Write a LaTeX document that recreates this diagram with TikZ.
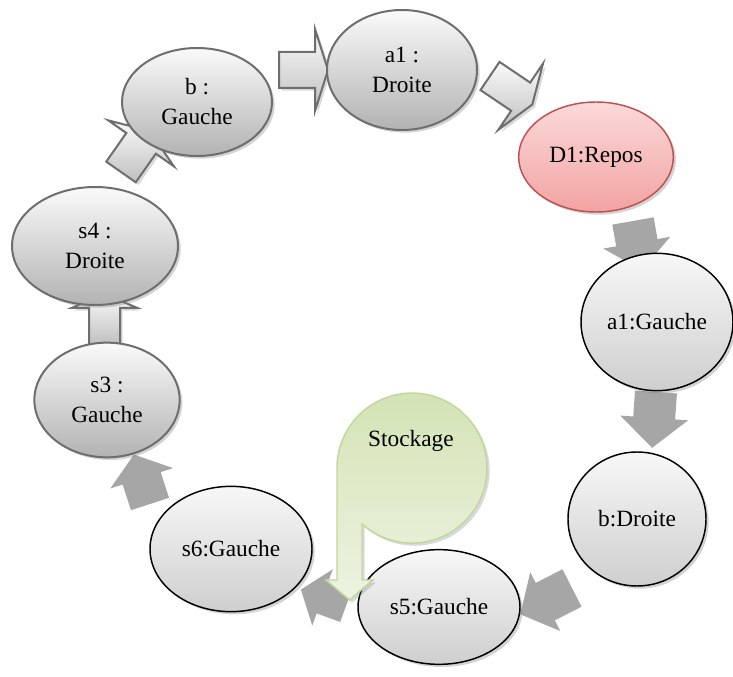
\documentclass[tikz,border=0pt]{standalone}
\usepackage{fontspec}
\setmainfont{Liberation Serif}
\usetikzlibrary{shapes.geometric,shadows}

\definecolor{rim}{HTML}{6E6E6E}
\definecolor{darkarr}{HTML}{A6A6A6}
\definecolor{redrim}{HTML}{C0504D}
\definecolor{pinktop}{HTML}{FBD9D9}
\definecolor{pinkbot}{HTML}{F2A3A3}
\definecolor{greenrim}{HTML}{C3D69B}
\definecolor{greentop}{HTML}{D3E3B4}
\definecolor{greenbot}{HTML}{EDF3E1}

\tikzset{
  pics/bigarrow/.style n args={5}{code={
    \path[#1] (0,-#3) -- ({#2-#5},-#3) -- ({#2-#5},-#4) -- (#2,0)
      -- ({#2-#5},#4) -- ({#2-#5},#3) -- (0,#3) -- cycle;
  }}
}

\begin{document}
\begin{tikzpicture}[x=0.75pt, y=-0.75pt,
    font=\rmfamily\fontsize{17.5}{22.5}\selectfont,
    state/.style={ellipse, inner sep=0pt, align=center,
      drop shadow={opacity=0.35, shadow xshift=2pt, shadow yshift=-2pt}},
    greystate/.style={state, draw=rim, line width=1.5pt, top color=gray!4, bottom color=gray!60},
    blackstate/.style={state, draw=black, line width=1.1pt, top color=gray!6, bottom color=gray!38},
    redstate/.style={state, draw=redrim, line width=1.1pt, top color=pinktop, bottom color=pinkbot},
    lightarr/.style={draw=rim, line width=1.5pt, top color=gray!4, bottom color=gray!50,
      drop shadow={opacity=0.3, shadow xshift=2pt, shadow yshift=-2pt}},
    darkarr/.style={fill=darkarr},
    stockshape/.style={draw=greenrim, line width=1.1pt, top color=greentop, bottom color=greenbot,
      drop shadow={opacity=0.3, shadow xshift=2pt, shadow yshift=-2pt}}]
  \useasboundingbox (0,0) rectangle (733,677);

  % arrows first, the states cover their ends
  \pic[rotate=0]    at (279,70)    {bigarrow={lightarr}{49}{18}{41}{13}};
  \pic[rotate=-34]  at (490,76)    {bigarrow={lightarr}{51}{17}{40}{14}};
  \pic[rotate=55]   at (121,172)   {bigarrow={lightarr}{50}{18}{40}{15}};
  \pic[rotate=90]   at (104.5,345) {bigarrow={lightarr}{51}{15.5}{33}{14}};
  \pic[rotate=-80]  at (633,221)   {bigarrow={darkarr}{50}{21}{34}{28}};
  \pic[rotate=-94]  at (656,392)   {bigarrow={darkarr}{56}{21}{34}{30}};
  \pic[rotate=-153] at (572,588)   {bigarrow={darkarr}{58}{21}{33}{28}};
  \pic[rotate=160]  at (346,606)   {bigarrow={darkarr}{48}{17}{30}{23}};
  \pic[rotate=108]  at (150,504)   {bigarrow={darkarr}{52}{20}{33}{25}};

  % states
  \node[greystate, minimum width=112.5pt, minimum height=81pt] (bg) at (197,102) {b :\\Gauche};
  \node[greystate, minimum width=112.5pt, minimum height=90pt] (ad) at (402,70) {a1 :\\Droite};
  \node[redstate, minimum width=116pt, minimum height=82.5pt] (dr) at (596,157) {D1:Repos};
  \node[blackstate, minimum width=114pt, minimum height=103pt] (ag) at (657,322) {a1:Gauche};
  \node[blackstate, minimum width=103.5pt, minimum height=100.5pt] (bd) at (637,519) {b:Droite};
  \node[blackstate, minimum width=121.5pt, minimum height=86pt] (sfive) at (439,607) {s5:Gauche};
  \node[blackstate, minimum width=121.5pt, minimum height=94pt] (ssix) at (231,549) {s6:Gauche};
  \node[greystate, minimum width=109pt, minimum height=86pt] (sthree) at (107,400) {s3 :\\Gauche};
  \node[greystate, minimum width=124.5pt, minimum height=88.5pt] (sfour) at (95,246) {s4 :\\Droite};

  % storage bubble with its arrow
  \path[stockshape] (337,468) -- (337,580) -- (326,580) -- (349.5,600) -- (373,580)
    -- (362,580) -- (362,524) arc[start angle=131.8, end angle=-180, radius=75] -- cycle;
  \node (stock) at (411,441) {Stockage};
\end{tikzpicture}
\end{document}
